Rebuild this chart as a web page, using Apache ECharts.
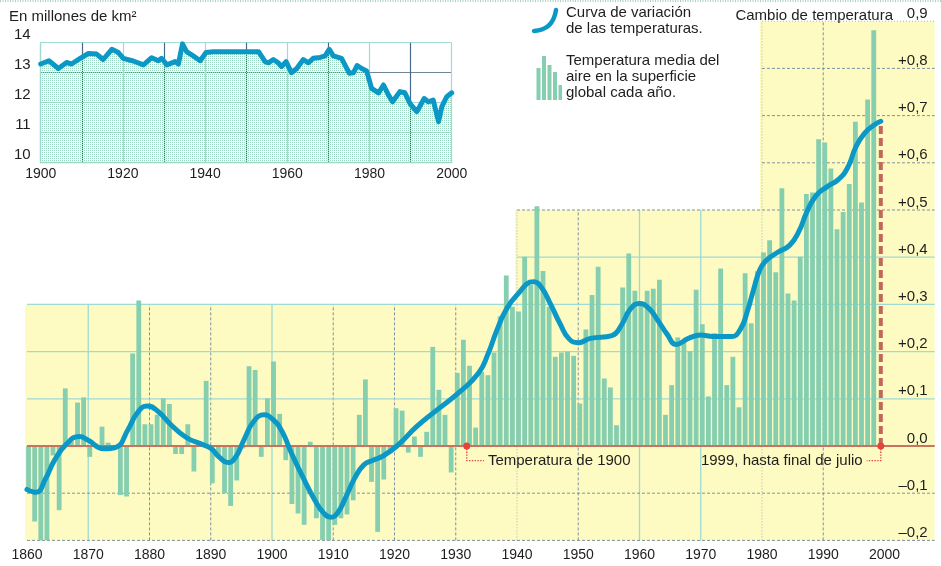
<!DOCTYPE html>
<html><head><meta charset="utf-8">
<script src="https://cdn.jsdelivr.net/npm/echarts@6/dist/echarts.min.js"></script>
<style>html,body{margin:0;padding:0;background:#fff}#c{width:941px;height:566px}</style>
</head><body><div id="c"></div>
<script>
// ---------------- DATA ----------------
const FIRST_YEAR = 1860;
// yearly global mean air temperature anomaly, 1860..1998
const tempValues = [
 -0.09,-0.16,-0.21,-0.20,-0.02,-0.136,0.122,0.01,0.092,0.103,
 -0.023,0.005,0.041,0.007,-0.005,-0.104,-0.107,0.196,0.308,0.046,
 0.046,0.066,0.101,0.089,-0.017,-0.017,0.046,-0.054,0.005,0.138,
 -0.079,-0.02,-0.10,-0.127,-0.073,-0.005,0.169,0.161,-0.023,0.101,
 0.179,0.068,-0.03,-0.123,-0.143,-0.167,0.009,-0.153,-0.199,-0.203,
 -0.167,-0.153,-0.145,-0.115,0.066,0.141,-0.076,-0.182,-0.071,-0.01,
 0.08,0.075,-0.014,0.02,-0.023,0.03,0.21,0.119,0.066,-0.056,
 0.155,0.225,0.17,0.039,0.157,0.15,0.198,0.275,0.361,0.295,
 0.285,0.401,0.341,0.508,0.371,0.295,0.189,0.198,0.20,0.191,
 0.09,0.247,0.32,0.38,0.143,0.124,0.044,0.336,0.408,0.329,
 0.30,0.329,0.333,0.352,0.066,0.129,0.23,0.221,0.201,0.331,
 0.258,0.105,0.239,0.376,0.129,0.189,0.082,0.366,0.26,0.37,
 0.41,0.436,0.368,0.546,0.323,0.308,0.401,0.534,0.537,0.65,
 0.643,0.588,0.459,0.496,0.555,0.687,0.516,0.734,0.881
];
// smoothed temperature curve
const curveYears = [1860,1861.5,1863,1864.5,1866.5,1868.5,1870,1872.5,1874.5,1876.5,1878,1879.6,1881.5,1883.5,1886,1888.5,1890,1891.5,1892.8,1894,1895.5,1897,1898.7,1900,1901.6,1903,1905,1907,1908.5,1909.6,1910.7,1912,1913.5,1915,1916.5,1918,1920.4,1923.6,1926.9,1930.4,1933.7,1935.3,1936.7,1938.2,1940,1942.7,1944,1945.5,1947,1948.5,1950,1952,1955.5,1957,1958.5,1960,1961.5,1963,1964.5,1966,1968,1970,1972,1975,1976.5,1977.6,1978.6,1979.6,1980.6,1982.5,1984.5,1986,1987.3,1988.8,1990.6,1992.5,1994,1995.3,1996.7,1998.3,1999.4];
const curveValues = [-0.092,-0.098,-0.07,-0.03,0.005,0.02,0.012,-0.006,-0.003,0.035,0.07,0.085,0.072,0.045,0.018,0.004,-0.005,-0.025,-0.035,-0.025,0.015,0.052,0.066,0.058,0.032,-0.01,-0.065,-0.115,-0.143,-0.151,-0.142,-0.11,-0.068,-0.04,-0.03,-0.022,0,0.041,0.076,0.112,0.154,0.196,0.245,0.288,0.32,0.348,0.336,0.3,0.26,0.227,0.219,0.228,0.234,0.255,0.29,0.302,0.292,0.266,0.237,0.215,0.228,0.235,0.232,0.232,0.248,0.285,0.33,0.372,0.392,0.41,0.425,0.454,0.495,0.53,0.549,0.565,0.59,0.633,0.662,0.68,0.688];
// inset: millions of km2
const iceYears = [1900,1902,1904.3,1906.3,1907.5,1909.6,1911.6,1913.6,1915.2,1917.3,1918.9,1920.1,1922.5,1925,1927,1928.6,1929.4,1930.7,1932.7,1933.5,1934.5,1935.5,1937.1,1938.8,1940.2,1942,1953,1954.6,1955.4,1956.6,1957.8,1958.6,1959.7,1961,1962.3,1963.9,1965.1,1966.3,1968,1969.2,1970.2,1971.2,1973.2,1975.1,1976.1,1977,1978.1,1979.3,1980.5,1982.2,1983.4,1984.6,1985.6,1987.4,1988.6,1989.9,1991.5,1993.3,1994.3,1995.5,1996.8,1997.6,1998.8,2000];
const iceValues = [13.29,13.4,13.14,13.34,13.29,13.48,13.64,13.62,13.44,13.78,13.67,13.48,13.39,13.26,13.5,13.4,13.48,13.26,13.37,13.29,13.96,13.7,13.56,13.4,13.67,13.7,13.7,13.37,13.33,13.44,13.33,13.2,13.37,13.0,13.14,13.44,13.33,13.48,13.51,13.56,13.78,13.56,13.48,12.98,13.0,13.24,13.14,13.06,12.48,12.33,12.59,12.26,12.03,12.37,12.33,11.96,11.7,12.14,12.03,12.09,11.37,11.87,12.2,12.33];
// tick labels
const tempTickLabels = ['\u20130,2','\u20130,1','0,0','+0,1','+0,2','+0,3','+0,4','+0,5','+0,6','+0,7','+0,8','0,9'];
const iceTickLabels = ['10','11','12','13','14'];
// stepped yellow background panels: [fromYear, toYear, topValue]
const XMAX = 2008.2, YMIN = -0.2, YMAX = 0.9;
const panels = [[1860,1940,0.3],[1940,1980,0.5],[1980,XMAX,0.9]];
const decadeLines = [1870,1880,1890,1900,1910,1920,1930,1940,1950,1960,1970,1980,1990];
const decadeKinds = [0,1,1,0,1,1,1,2,1,0,0,2,1];
const levelLines = [-0.2,-0.1,0.1,0.2,0.3,0.4,0.5,0.6,0.7,0.8,0.9];
const levelKinds = [1,1,0,0,0,0,1,1,1,1,2];
// annotations
const note1900 = {year:1931.8, textYear:1934.6, text:'Temperatura de 1900'};
const note1999 = {year:1999.4, textYear:1997.1, text:'1999, hasta final de julio'};
const lastCurveValue = curveValues[curveValues.length-1];

// ---------------- BUILD ----------------
const topAt = x => Math.max(...panels.filter(p => p[0] <= x && x <= p[1]).map(p => p[2]));
const startAt = v => Math.min(...panels.filter(p => p[2] >= v - 1e-9).map(p => p[0]));
const gridData = [];
decadeLines.forEach((d,i) => gridData.push([d, YMIN, d, topAt(d), decadeKinds[i]]));
levelLines.forEach((v,i) => gridData.push([startAt(v), v, XMAX, v, levelKinds[i]]));
const LINE_STYLES = [
  {stroke:'#9fdad4', lineWidth:1.3},
  {stroke:'#7d91a4', lineWidth:1, lineDash:[3,2]},
  {stroke:'#a7b3bb', lineWidth:1, lineDash:[1,2]}
];
const barData = tempValues.map((v,i) => [FIRST_YEAR + i + 0.25, v]);
const curveData = curveYears.map((y,i) => [y, curveValues[i]]);
const iceData = iceYears.map((y,i) => [y, iceValues[i]]);

const pat = document.createElement('canvas');
pat.width = 2; pat.height = 2;
const pctx = pat.getContext('2d');
pctx.fillStyle = '#98d6bf'; pctx.fillRect(0,0,1,1);

const FONT = '"Liberation Sans", Arial, Helvetica, sans-serif';
const TXT = '#1e1e1e';
const YELLOW = '#fdfbc1';
const BLUE = '#0b98c6';
const GREEN = '#85ceb0';
const RED = '#e2453c';

const noteLabel = pos => ({show:true, position:pos, distance:4, fontSize:15, color:TXT, fontFamily:FONT});

const chart = echarts.init(document.getElementById('c'), null, {renderer:'canvas'});
chart.setOption({
  animation:false,
  backgroundColor:'#fff',
  textStyle:{fontFamily:FONT},
  title:[
    {text:'En millones de km\u00B2', left:4, top:4, textStyle:{fontFamily:FONT, fontSize:15, fontWeight:'normal', color:TXT}},
    {text:'Cambio de temperatura', right:43, top:3, textStyle:{fontFamily:FONT, fontSize:15, fontWeight:'normal', color:TXT}}
  ],
  grid:[
    {left:27, right:6.3, top:21.2, bottom:25.6},
    {left:40.7, right:489.3, top:42.7, bottom:403.3}
  ],
  xAxis:[
    {gridIndex:0, type:'value', min:FIRST_YEAR, max:XMAX, interval:10, z:10,
     axisLine:{show:false}, axisTick:{show:false}, splitLine:{show:false},
     axisLabel:{margin:8, fontSize:14, color:TXT, fontFamily:FONT,
       formatter:v => (Math.abs(v % 10) < 1e-6 && v <= 2000) ? String(v) : ''}},
    {gridIndex:1, type:'value', min:1900, max:2000, interval:10,
     axisLine:{show:true, lineStyle:{color:'#9fdad4', width:1.3}}, axisTick:{show:false},
     splitLine:{show:true, lineStyle:{color:['#9fdad4','#48698a'], width:1.2}},
     axisLabel:{margin:4, fontSize:14, color:TXT, fontFamily:FONT,
       formatter:v => (v % 20 === 0) ? String(v) : ''}}
  ],
  yAxis:[
    {gridIndex:0, type:'value', position:'right', min:YMIN, max:YMAX, interval:0.1, z:10,
     axisLine:{show:false}, axisTick:{show:false}, splitLine:{show:false},
     axisLabel:{inside:true, margin:7, fontSize:15, color:TXT, fontFamily:FONT, verticalAlign:'bottom',
       formatter:v => tempTickLabels[Math.round((v - YMIN)*10)] || ''}},
    {gridIndex:1, type:'value', min:10, max:14, interval:1,
     axisLine:{show:true, lineStyle:{color:'#9fdad4', width:1.3}}, axisTick:{show:false},
     splitLine:{show:true, lineStyle:{color:['#9fdad4','#9fdad4','#9fdad4','#6f8796','#9fdad4'], width:1.2, type:'solid'}},
     axisLabel:{margin:10, fontSize:15, color:TXT, fontFamily:FONT, verticalAlign:'bottom',
       formatter:v => iceTickLabels[Math.round(v - 10)] || ''}}
  ],
  series:[
    {type:'custom', xAxisIndex:0, yAxisIndex:0, z:1, silent:true, data:panels,
     renderItem:(params, api) => {
       const a = api.coord([api.value(0), api.value(2)]);
       const b = api.coord([api.value(1), YMIN]);
       return {type:'rect', shape:{x:a[0]-2, y:a[1], width:b[0]-a[0]+2, height:b[1]-a[1]}, style:{fill:YELLOW}};
     }},
    {type:'custom', xAxisIndex:0, yAxisIndex:0, z:2, silent:true, data:gridData,
     renderItem:(params, api) => {
       const a = api.coord([api.value(0), api.value(1)]);
       const b = api.coord([api.value(2), api.value(3)]);
       return {type:'line', shape:{x1:a[0], y1:a[1], x2:b[0], y2:b[1]}, style:LINE_STYLES[api.value(4)]};
     }},
    {name:'Temperatura media', type:'bar', xAxisIndex:0, yAxisIndex:0, z:3, barWidth:4.8,
     data:barData, itemStyle:{color:GREEN}},
    {type:'line', xAxisIndex:0, yAxisIndex:0, z:4, symbol:'none', silent:true,
     data:[[FIRST_YEAR,0],[XMAX,0]], lineStyle:{color:'#c9735f', width:2.2}},
    {type:'line', xAxisIndex:0, yAxisIndex:0, z:4, symbol:'none', silent:true,
     data:[[note1999.year,0],[note1999.year,lastCurveValue]],
     lineStyle:{color:'#c4675b', width:4, type:[8,4]}},
    {type:'line', xAxisIndex:0, yAxisIndex:0, z:5, symbol:'circle', symbolSize:0.01, showSymbol:true, silent:true,
     data:[{value:[note1900.year,0], symbolSize:7}, [note1900.year,-0.031],
           {value:[note1900.textYear,-0.031], label:Object.assign(noteLabel('right'), {formatter:note1900.text})}],
     itemStyle:{color:RED}, lineStyle:{color:RED, width:1.4, type:'dotted'}},
    {type:'line', xAxisIndex:0, yAxisIndex:0, z:5, symbol:'circle', symbolSize:0.01, showSymbol:true, silent:true,
     data:[{value:[note1999.year,0], symbolSize:7}, [note1999.year,-0.031],
           {value:[note1999.textYear,-0.031], label:Object.assign(noteLabel('left'), {formatter:note1999.text})}],
     itemStyle:{color:RED}, lineStyle:{color:RED, width:1.4, type:'dotted'}},
    {name:'Curva', type:'line', xAxisIndex:0, yAxisIndex:0, z:6, symbol:'none', smooth:0.5,
     data:curveData, lineStyle:{color:BLUE, width:5, cap:'round', join:'round'}},
    {name:'Hielo', type:'line', xAxisIndex:1, yAxisIndex:1, z:3, symbol:'none',
     data:iceData, lineStyle:{color:BLUE, width:5, join:'round', cap:'round'},
     areaStyle:{color:{image:pat, repeat:'repeat'}, opacity:1, origin:'start'}}
  ],
  graphic:[
    {type:'line', shape:{x1:0, y1:1, x2:941, y2:1}, style:{stroke:'#a9d2c4', lineWidth:2, lineDash:[1,1.5]}, silent:true},
    {type:'bezierCurve', shape:{x1:534, y1:31, cpx1:553, cpy1:30, x2:556, y2:10}, style:{stroke:BLUE, lineWidth:4.5, fill:null, lineCap:'round'}, silent:true},
    {type:'rect', shape:{x:536.5, y:68, width:4, height:32}, style:{fill:GREEN}},
    {type:'rect', shape:{x:542, y:56, width:4, height:44}, style:{fill:GREEN}},
    {type:'rect', shape:{x:547.5, y:65, width:4, height:35}, style:{fill:GREEN}},
    {type:'rect', shape:{x:553, y:72, width:4, height:28}, style:{fill:GREEN}},
    {type:'rect', shape:{x:558.5, y:85, width:3.5, height:15}, style:{fill:GREEN}},
    {type:'text', left:566, top:5, style:{text:'Curva de variación\nde las temperaturas.', font:'15px '+FONT, fill:TXT, lineHeight:16}},
    {type:'text', left:566, top:53, style:{text:'Temperatura media del\naire en la superficie\nglobal cada año.', font:'15px '+FONT, fill:TXT, lineHeight:16}}
  ]
});
</script></body></html>
